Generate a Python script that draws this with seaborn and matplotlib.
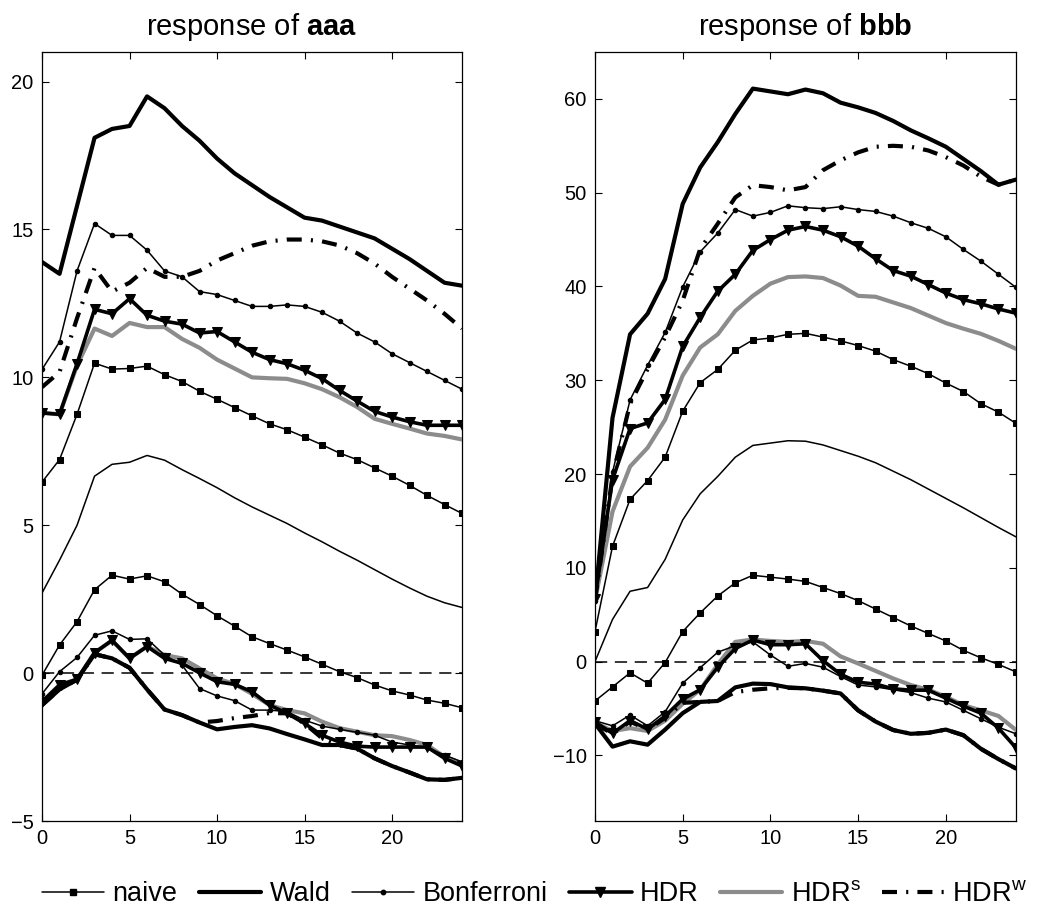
import numpy as np
import pandas as pd
import matplotlib
matplotlib.use("Agg")
import matplotlib.pyplot as plt
from matplotlib.lines import Line2D
from matplotlib import font_manager
import seaborn as sns

# ---------------- data ----------------
horizon = list(range(25))

# panel 1: response of aaa
a_est = [2.71, 3.82, 5.0, 6.66, 7.06, 7.13, 7.36, 7.2, 6.88, 6.58, 6.27, 5.93, 5.62, 5.34, 5.06, 4.74, 4.44, 4.12, 3.82, 3.5, 3.18, 2.88, 2.6, 2.38, 2.22]
a_naive_hi = [6.46, 7.22, 8.75, 10.48, 10.28, 10.3, 10.38, 10.09, 9.86, 9.53, 9.26, 8.98, 8.7, 8.43, 8.23, 7.98, 7.72, 7.44, 7.22, 6.94, 6.66, 6.35, 6.01, 5.7, 5.4]
a_naive_lo = [-0.07, 0.95, 1.74, 2.82, 3.31, 3.18, 3.29, 3.09, 2.67, 2.32, 1.94, 1.59, 1.23, 1.0, 0.78, 0.55, 0.3, 0.05, -0.15, -0.4, -0.6, -0.74, -0.91, -1.02, -1.17]
a_wald_hi = [13.9, 13.5, 15.8, 18.1, 18.4, 18.5, 19.5, 19.1, 18.5, 18.0, 17.4, 16.9, 16.5, 16.1, 15.75, 15.4, 15.3, 15.1, 14.9, 14.7, 14.35, 14.0, 13.6, 13.2, 13.1]
a_wald_lo = [-1.08, -0.55, -0.22, 0.64, 0.5, 0.18, -0.55, -1.23, -1.42, -1.67, -1.9, -1.82, -1.76, -1.87, -2.06, -2.24, -2.43, -2.43, -2.55, -2.88, -3.14, -3.36, -3.59, -3.61, -3.54]
a_bonf_hi = [10.27, 11.2, 13.6, 15.2, 14.8, 14.8, 14.3, 13.6, 13.4, 12.9, 12.8, 12.6, 12.4, 12.4, 12.45, 12.4, 12.2, 11.9, 11.5, 11.2, 10.8, 10.5, 10.2, 9.9, 9.6]
a_bonf_lo = [-0.7, 0.05, 0.53, 1.28, 1.43, 1.14, 1.16, 0.61, 0.27, -0.52, -0.77, -0.93, -1.25, -1.25, -1.3, -1.59, -1.79, -1.9, -2.0, -2.1, -2.33, -2.43, -2.51, -2.77, -3.0]
a_hdr_hi = [8.8, 8.75, 10.46, 12.3, 12.15, 12.66, 12.1, 11.9, 11.8, 11.5, 11.55, 11.2, 10.85, 10.6, 10.46, 10.24, 9.96, 9.56, 9.2, 8.85, 8.66, 8.5, 8.38, 8.38, 8.38]
a_hdr_lo = [-0.97, -0.4, -0.21, 0.69, 1.11, 0.5, 0.9, 0.5, 0.33, 0.01, -0.29, -0.38, -0.63, -1.08, -1.36, -1.7, -2.1, -2.33, -2.47, -2.5, -2.5, -2.5, -2.5, -2.88, -3.14]
a_hdrs_hi = [8.8, 8.75, 10.4, 11.65, 11.4, 11.84, 11.7, 11.7, 11.3, 11.0, 10.6, 10.3, 10.0, 9.97, 9.95, 9.8, 9.6, 9.33, 9.0, 8.6, 8.43, 8.27, 8.1, 8.02, 7.9]
a_hdrs_lo = [-0.97, -0.4, -0.21, 0.69, 1.1, 0.5, 0.9, 0.61, 0.5, 0.16, -0.18, -0.37, -0.7, -1.08, -1.25, -1.36, -1.64, -1.86, -1.98, -2.1, -2.13, -2.26, -2.43, -2.83, -3.05]
a_hdrw_hi = [9.67, 10.18, 12.0, 13.7, 12.9, 13.2, 13.7, 13.4, 13.4, 13.6, 13.95, 14.2, 14.45, 14.6, 14.66, 14.66, 14.6, 14.46, 14.2, 13.85, 13.4, 13.0, 12.6, 12.15, 11.65]
a_hdrw_lo = [-1.08, -0.55, -0.22, 0.64, 0.5, 0.18, -0.55, -1.23, -1.42, -1.67, -1.62, -1.52, -1.45, -1.35, -1.36, -1.7, -2.2, -2.43, -2.55, -2.88, -3.14, -3.36, -3.59, -3.61, -3.54]

# panel 2: response of bbb
b_est = [0.0, 4.5, 7.5, 7.9, 10.9, 15.1, 17.9, 19.75, 21.8, 23.05, 23.3, 23.55, 23.5, 23.1, 22.5, 21.9, 21.2, 20.3, 19.4, 18.4, 17.4, 16.4, 15.35, 14.3, 13.3]
b_naive_hi = [3.2, 12.3, 17.3, 19.3, 21.8, 26.7, 29.75, 31.15, 33.2, 34.3, 34.5, 34.9, 35.0, 34.6, 34.2, 33.7, 33.1, 32.2, 31.5, 30.7, 29.7, 28.8, 27.5, 26.6, 25.4]
b_naive_lo = [-4.2, -2.7, -1.2, -2.3, -0.1, 3.2, 5.2, 7.0, 8.4, 9.2, 9.0, 8.8, 8.55, 7.9, 7.25, 6.5, 5.6, 4.7, 3.8, 3.0, 2.2, 1.2, 0.4, -0.3, -1.1]
b_wald_hi = [6.5, 26.0, 34.9, 37.1, 40.8, 48.8, 52.7, 55.4, 58.4, 61.1, 60.8, 60.5, 61.0, 60.6, 59.6, 59.1, 58.5, 57.65, 56.65, 55.8, 54.9, 53.6, 52.3, 50.85, 51.4]
b_wald_lo = [-6.6, -9.07, -8.5, -8.86, -7.25, -5.5, -4.3, -4.2, -2.75, -2.35, -2.4, -2.75, -2.85, -3.1, -3.4, -5.2, -6.4, -7.3, -7.7, -7.6, -7.25, -7.85, -9.3, -10.4, -11.4]
b_bonf_hi = [6.5, 20.2, 27.9, 31.6, 35.1, 39.95, 43.7, 45.7, 48.2, 47.5, 47.9, 48.6, 48.4, 48.3, 48.5, 48.2, 48.0, 47.5, 46.8, 46.2, 45.3, 43.95, 42.7, 41.3, 39.9]
b_bonf_lo = [-6.3, -6.85, -5.7, -6.85, -5.35, -2.3, -0.65, 1.0, 1.7, 2.1, 0.7, -0.5, -0.2, -0.6, -1.6, -2.5, -2.7, -3.0, -3.3, -3.9, -4.3, -5.2, -6.1, -7.0, -7.7]
b_hdr_hi = [6.7, 19.4, 24.85, 25.45, 27.95, 33.6, 36.7, 39.5, 41.3, 43.85, 45.0, 46.0, 46.4, 46.0, 45.3, 44.3, 42.95, 41.7, 41.1, 40.2, 39.3, 38.6, 38.15, 37.6, 37.15]
b_hdr_lo = [-6.45, -7.65, -6.3, -7.2, -5.8, -4.0, -3.0, -0.6, 1.4, 2.3, 1.8, 1.8, 1.9, 0.1, -1.35, -2.2, -2.4, -2.9, -3.05, -3.05, -3.9, -4.75, -5.5, -7.1, -9.2]
b_hdrs_hi = [6.5, 16.0, 20.8, 22.8, 25.8, 30.5, 33.5, 34.9, 37.4, 39.0, 40.3, 41.0, 41.07, 40.9, 40.1, 39.0, 38.9, 38.3, 37.7, 36.9, 36.1, 35.5, 34.95, 34.2, 33.35]
b_hdrs_lo = [-6.5, -7.4, -7.1, -7.4, -6.3, -4.5, -3.0, -0.3, 2.1, 2.35, 2.2, 2.1, 2.2, 1.9, 0.55, -0.2, -1.0, -1.8, -2.5, -3.0, -3.75, -4.65, -5.2, -5.8, -7.3]
b_hdrw_hi = [6.5, 19.8, 27.5, 31.2, 34.6, 38.5, 44.0, 46.7, 49.5, 50.8, 50.6, 50.25, 50.6, 52.4, 53.45, 54.3, 54.9, 55.0, 54.9, 54.5, 53.8, 52.9, 51.7, 50.85, 51.4]
b_hdrw_lo = [-6.6, -7.7, -6.4, -7.25, -6.0, -4.4, -4.3, -4.2, -3.25, -3.0, -2.85, -2.8, -2.85, -3.1, -3.4, -5.2, -6.4, -7.3, -7.7, -7.6, -7.25, -7.85, -9.3, -10.4, -11.4]

titles = ["aaa", "bbb"]
legend_labels = ["naive", "Wald", "Bonferroni", "HDR", "HDR$^{\\mathrm{s}}$", "HDR$^{\\mathrm{w}}$"]
left_yticks = [-5, 0, 5, 10, 15, 20]
right_yticks = [-10, 0, 10, 20, 30, 40, 50, 60]
xticks = [0, 5, 10, 15, 20]

# ---------------- style ----------------
sns.set_style("ticks")
plt.rcParams["font.family"] = ["Liberation Sans", "DejaVu Sans"]
plt.rcParams["mathtext.fontset"] = "custom"
plt.rcParams["mathtext.rm"] = "Liberation Sans"
plt.rcParams["mathtext.it"] = "Liberation Sans:italic"
plt.rcParams["mathtext.bf"] = "Liberation Sans:bold"
for key in ["text.color", "axes.labelcolor", "xtick.color", "ytick.color", "axes.edgecolor"]:
    plt.rcParams[key] = "black"

# legend font: narrow variant if installed
legend_family = ["Liberation Sans", "DejaVu Sans"]
legend_size = 19.5
try:
    fp = font_manager.findfont(font_manager.FontProperties(family="Liberation Sans Narrow"),
                               fallback_to_default=False)
    if "Narrow" in fp:
        legend_family = ["Liberation Sans Narrow", "Liberation Sans", "DejaVu Sans"]
        legend_size = 22.5
except Exception:
    pass

GRAY = "#8c8c8c"
styles = {
    "naive": dict(color="k", linewidth=1.1, marker="s", markersize=4.6, markerfacecolor="k", markeredgecolor="k", linestyle="-"),
    "Wald": dict(color="k", linewidth=3.0, marker=None, linestyle="-"),
    "Bonferroni": dict(color="k", linewidth=1.1, marker="o", markersize=3.2, markerfacecolor="k", markeredgecolor="k", linestyle="-"),
    "HDR": dict(color="k", linewidth=2.6, marker="v", markersize=6.5, markerfacecolor="k", markeredgecolor="k", linestyle="-"),
    "HDRs": dict(color=GRAY, linewidth=3.0, marker=None, linestyle="-"),
    "HDRw": dict(color="k", linewidth=3.0, marker=None, linestyle=(0, (3.6, 2.2, 0.5, 2.2))),
}

fig = plt.figure(figsize=(10.38, 9.16), dpi=100)
ax1 = fig.add_axes([0.0405, 0.1037, 0.4046, 0.8395])
ax2 = fig.add_axes([0.5732, 0.1037, 0.4056, 0.8395])

panels = [
    (ax1, dict(est=a_est, naive=(a_naive_hi, a_naive_lo), Wald=(a_wald_hi, a_wald_lo),
               Bonferroni=(a_bonf_hi, a_bonf_lo), HDR=(a_hdr_hi, a_hdr_lo),
               HDRs=(a_hdrs_hi, a_hdrs_lo), HDRw=(a_hdrw_hi, a_hdrw_lo)),
     (-5, 21), left_yticks, titles[0]),
    (ax2, dict(est=b_est, naive=(b_naive_hi, b_naive_lo), Wald=(b_wald_hi, b_wald_lo),
               Bonferroni=(b_bonf_hi, b_bonf_lo), HDR=(b_hdr_hi, b_hdr_lo),
               HDRs=(b_hdrs_hi, b_hdrs_lo), HDRw=(b_hdrw_hi, b_hdrw_lo)),
     (-17, 65), right_yticks, titles[1]),
]

draw_order = ["HDRs", "naive", "Bonferroni", "HDRw", "HDR", "Wald"]

for ax, d, ylim, yt, ttl in panels:
    ax.axhline(0, color="k", linewidth=1.1, linestyle=(0, (8.0, 5.0)), zorder=1)
    sns.lineplot(x=horizon, y=d["est"], ax=ax, color="k", linewidth=1.1, zorder=2)
    for key in draw_order:
        hi, lo = d[key]
        for series in (hi, lo):
            sns.lineplot(x=horizon, y=series, ax=ax, zorder=3, **styles[key])
    ax.set_xlim(0, 24)
    ax.set_ylim(*ylim)
    ax.set_xticks(xticks)
    ax.set_yticks(yt)
    ax.set_xlabel("")
    ax.set_ylabel("")
    ax.tick_params(direction="in", top=True, right=True, length=5, width=0.8,
                   labelsize=14.5, pad=6, colors="black")
    for sp in ax.spines.values():
        sp.set_visible(True)
        sp.set_linewidth(0.9)
        sp.set_color("k")
    ax.set_title("response of $\\mathbf{" + ttl + "}$", fontsize=21, pad=12, color="black")

# legend
keys = ["naive", "Wald", "Bonferroni", "HDR", "HDRs", "HDRw"]
handles = [Line2D([0], [0], **styles[k]) for k in keys]
leg = fig.legend(handles, legend_labels, loc="center", bbox_to_anchor=(0.515, 0.024), ncol=6,
                 frameon=False, prop=dict(family=legend_family, size=legend_size),
                 handlelength=2.3, handletextpad=0.3, columnspacing=0.8, numpoints=1)
for t in leg.get_texts():
    t.set_color("black")

fig.savefig("out.png", dpi=100)
